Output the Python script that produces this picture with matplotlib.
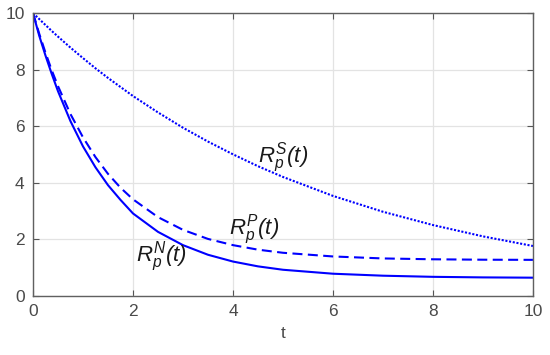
import matplotlib
matplotlib.use("Agg")
import matplotlib.pyplot as plt

plt.rcParams["font.family"] = ["Liberation Sans", "DejaVu Sans"]
plt.rcParams["mathtext.fontset"] = "custom"
plt.rcParams["mathtext.it"] = "Liberation Sans:italic"
plt.rcParams["mathtext.rm"] = "Liberation Sans:italic"

# values
t = [0, 0.125, 0.25, 0.375, 0.5, 0.75, 1, 1.25, 1.5, 1.75, 2, 2.5, 3, 3.5, 4, 4.5, 5,
     6, 7, 8, 9, 10]
r_n = [10, 9.20, 8.50, 7.85, 7.24, 6.18, 5.29, 4.55, 3.92, 3.40, 2.92, 2.27, 1.80,
       1.46, 1.22, 1.05, 0.93, 0.79, 0.72, 0.68, 0.66, 0.65]
r_p = [10, 9.27, 8.60, 7.98, 7.42, 6.43, 5.61, 4.91, 4.32, 3.83, 3.42, 2.79, 2.34,
       2.02, 1.80, 1.64, 1.53, 1.40, 1.33, 1.30, 1.285, 1.28]
r_s = [10, 9.79, 9.58, 9.37, 9.17, 8.78, 8.41, 8.05, 7.71, 7.39, 7.07, 6.49, 5.95,
       5.46, 5.01, 4.59, 4.21, 3.54, 2.98, 2.51, 2.11, 1.77]

labels = [r"$R_p^N(t)$", r"$R_p^P(t)$", r"$R_p^S(t)$"]
label_xy = [(2.06, 1.21), (3.93, 2.18), (4.5, 4.73)]

ticks = [0, 2, 4, 6, 8, 10]

fig = plt.figure(figsize=(5.5, 3.55), dpi=100)
ax = fig.add_axes([0.06, 0.166, 0.909, 0.797])

blue = "#0000ff"
ax.plot(t, r_n, "-", color=blue, lw=1.5)
ax.plot(t, r_p, color=blue, lw=1.5, linestyle=(0, (4.8, 2.6)))
ax.plot(t, r_s, color=blue, lw=1.5, linestyle=(0, (1, 0.8)))

for s, (x, y) in zip(labels, label_xy):
    ax.text(x, y, s, fontsize=16, color="#1a1a1a", ha="left", va="baseline")

ax.set_xlim(0, 10)
ax.set_ylim(0, 10)
ax.set_xticks(ticks)
ax.set_yticks(ticks)
ax.grid(True, color="#e3e3e3", lw=0.9)
ax.set_axisbelow(True)
ax.tick_params(direction="in", length=4, width=0.8, colors="#555555",
               labelsize=12.5, labelcolor="#4a4a4a", top=True, right=True,
               labeltop=False, labelright=False, pad=6)
for sp in ax.spines.values():
    sp.set_color("#606060")
    sp.set_linewidth(1.0)
ax.set_xlabel("t", fontsize=12.5, color="#4a4a4a", labelpad=5)

fig.savefig("out.png", dpi=100)
